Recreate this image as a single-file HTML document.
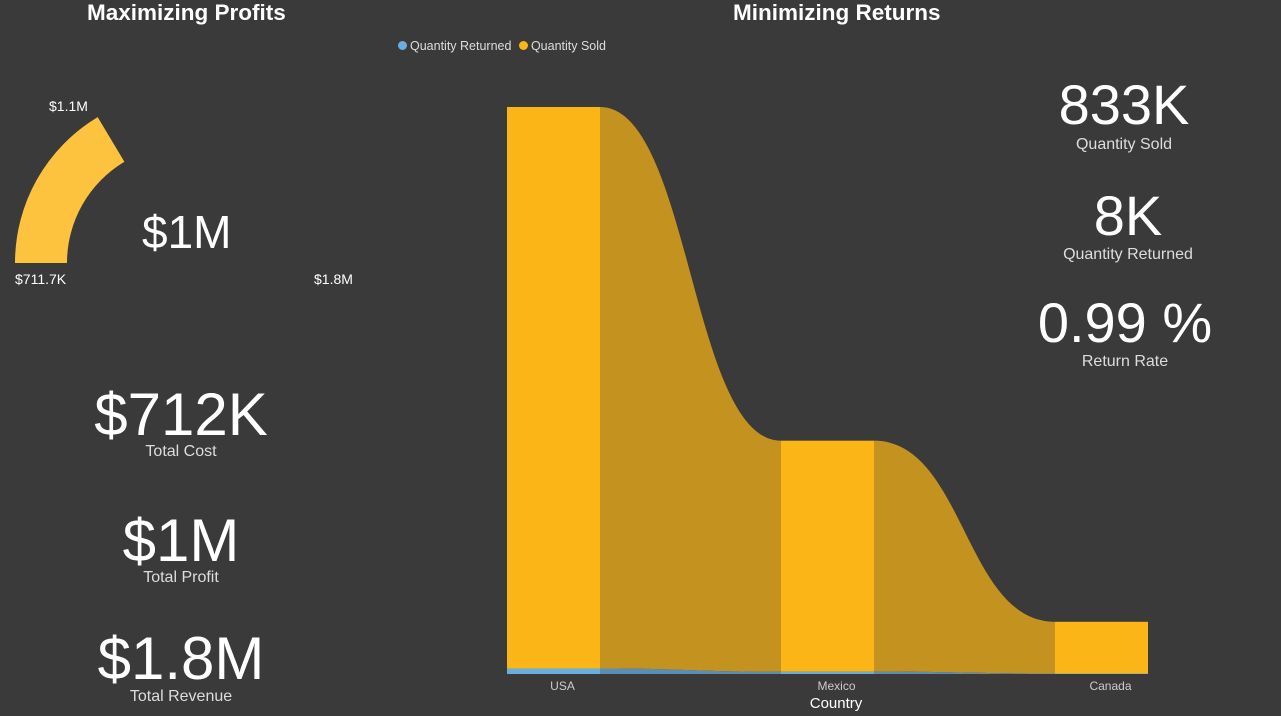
<!DOCTYPE html>
<html><head><meta charset="utf-8"><style>
body{margin:0;background:#3a3a3a;width:1281px;height:716px;overflow:hidden;font-family:"Liberation Sans",sans-serif;color:#fff;position:relative}
.a{position:absolute;white-space:nowrap}
.t{font-weight:bold;font-size:22.5px}
.big{font-size:60px;text-align:center;line-height:1}
.lbl{font-size:16px;color:#ddd;text-align:center}
</style></head><body>
<div class="a t" style="left:87px;top:0px">Maximizing Profits</div>
<div class="a t" style="left:733px;top:0px">Minimizing Returns</div>
<div class="a" style="left:398px;top:39px;font-size:12.5px;color:#ddd">
<span><span style="display:inline-block;width:9px;height:9px;border-radius:50%;background:#6aaee0;margin-right:3px"></span>Quantity Returned</span>
<span style="margin-left:4px"><span style="display:inline-block;width:9px;height:9px;border-radius:50%;background:#fbb516;margin-right:3px"></span>Quantity Sold</span></div>

<svg class="a" style="left:0;top:0" width="400" height="300" id="gauge"></svg>
<div class="a" style="left:142px;top:205px;font-size:46px;font-weight:300;color:#fff">$1M</div>
<div class="a" style="left:49px;top:98px;font-size:14px">$1.1M</div>
<div class="a" style="left:15px;top:271px;font-size:14px">$711.7K</div>
<div class="a" style="left:314px;top:271px;font-size:14px">$1.8M</div>

<div class="a big" style="left:0;width:362px;top:385px">$712K</div>
<div class="a lbl" style="left:0;width:362px;top:443px">Total Cost</div>
<div class="a big" style="left:0;width:362px;top:511px">$1M</div>
<div class="a lbl" style="left:0;width:362px;top:569px">Total Profit</div>
<div class="a big" style="left:0;width:362px;top:629px">$1.8M</div>
<div class="a lbl" style="left:0;width:362px;top:688px">Total Revenue</div>

<div class="a big" style="left:1024px;width:200px;top:77px;font-size:56px">833K</div>
<div class="a lbl" style="left:1024px;width:200px;top:136px">Quantity Sold</div>
<div class="a big" style="left:1028px;width:200px;top:188px;font-size:56px">8K</div>
<div class="a lbl" style="left:1028px;width:200px;top:246px">Quantity Returned</div>
<div class="a big" style="left:1025px;width:200px;top:295px;font-size:56px">0.99 %</div>
<div class="a lbl" style="left:1025px;width:200px;top:353px">Return Rate</div>

<svg class="a" style="left:0;top:0" width="1281" height="716" id="chart"></svg>
<script>
const countries=["USA","Mexico","Canada"];
const sold=[554,228,51];
const returned=[5.4,2.2,0.5];
const gaugeMin=[711.7];
const gaugeMax=[1800];
const gaugeVal=[1069];
const NS="http://www.w3.org/2000/svg";
function mk(p,t,a){const e=document.createElementNS(NS,t);for(const k in a)e.setAttribute(k,a[k]);p.appendChild(e);return e;}
const g=document.getElementById('gauge');
const cx=185,cy=263,R=170,r=118;
const f=(gaugeVal[0]-gaugeMin[0])/(gaugeMax[0]-gaugeMin[0]);
const ang=Math.PI*(1-f);
const pt=(rad,a)=>[cx+rad*Math.cos(a),cy-rad*Math.sin(a)];
const [x1,y1]=pt(R,Math.PI),[x2,y2]=pt(R,ang),[x3,y3]=pt(r,ang),[x4,y4]=pt(r,Math.PI);
const arc=mk(g,'path',{d:`M${x1},${y1} A${R},${R} 0 0 1 ${x2},${y2} L${x3},${y3} A${r},${r} 0 0 0 ${x4},${y4} Z`,fill:'#fdc33f'});


const s=document.getElementById('chart');
const base=674,top0=107,maxV=sold[0]+returned[0];
const y=v=>base-(v/maxV)*(base-top0);
const xs=[507,781,1055],bw=93;
for(let i=0;i<countries.length-1;i++){
 const xa=xs[i]+bw,xb=xs[i+1],xm=(xa+xb)/2;
 const ta=y(sold[i]+returned[i]),tb=y(sold[i+1]+returned[i+1]);
 const ra=y(returned[i]),rb=y(returned[i+1]);
 const rs=mk(s,'path',{d:`M${xa},${ta} C${xm},${ta} ${xm},${tb} ${xb},${tb} L${xb},${rb} C${xm},${rb} ${xm},${ra} ${xa},${ra} Z`,fill:'#c4921e'});
 
 
 const rr=mk(s,'path',{d:`M${xa},${ra} C${xm},${ra} ${xm},${rb} ${xb},${rb} L${xb},${base} L${xa},${base} Z`,fill:'#5b8db5'});
 
 
}
countries.forEach((c,i)=>{
 const yt=y(sold[i]+returned[i]),yr=y(returned[i]);
 const b=mk(s,'rect',{x:xs[i],y:yt,width:bw,height:yr-yt,fill:'#fbb516'});
 
 
 const br=mk(s,'rect',{x:xs[i],y:yr,width:bw,height:base-yr,fill:'#6aaee0'});
 
 
 const t=mk(s,'text',{x:xs[i]+bw/2+9,y:690,'text-anchor':'middle','font-size':12,fill:'#ccc','font-family':'Liberation Sans'});
 t.textContent=c;
 
 
});
const xt=mk(s,'text',{x:836,y:708,'text-anchor':'middle','font-size':15,fill:'#fff','font-family':'Liberation Sans'});
xt.textContent='Country';


</script>
</body></html>
